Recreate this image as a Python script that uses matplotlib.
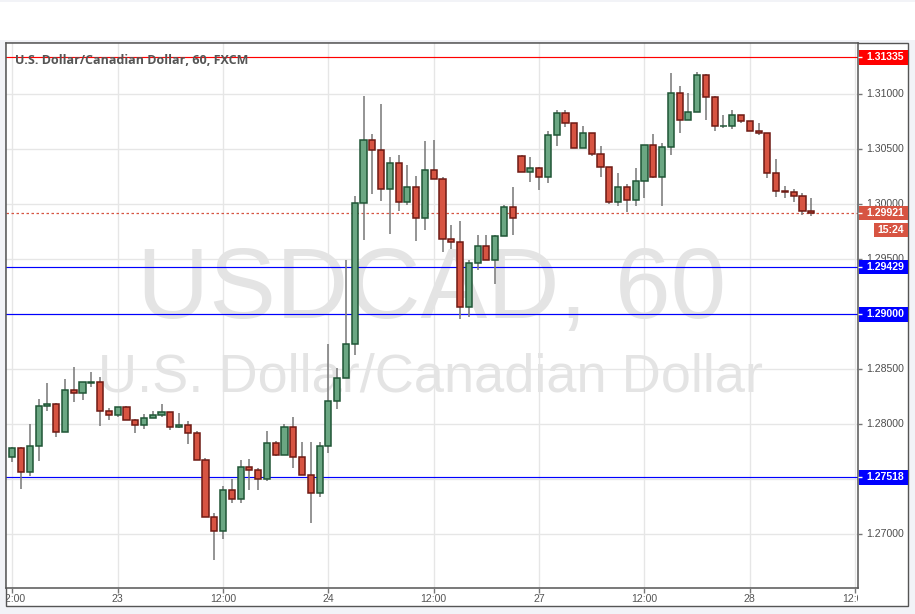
import matplotlib.pyplot as plt
from matplotlib.patches import Rectangle
from matplotlib import rcParams

rcParams.update({"font.family": ["Liberation Sans", "DejaVu Sans"]})

# hourly USDCAD candles, from 22nd 12:00
opens = [1.27700, 1.27782, 1.27564, 1.27800, 1.28164, 1.28185, 1.27927, 1.28309, 1.28282, 1.28380,
         1.28382, 1.28118, 1.28082, 1.28155, 1.28036, 1.27991, 1.28055, 1.28082, 1.28109, 1.27973,
         1.27991, 1.27918, 1.27676, 1.27155, 1.27027, 1.27400, 1.27318, 1.27609, 1.27582, 1.27500,
         1.27827, 1.27724, 1.27973, 1.27700, 1.27536, 1.27373, 1.27800, 1.28209, 1.28418, 1.28727,
         1.30009, 1.30582, 1.30490, 1.30136, 1.30373, 1.30018, 1.30155, 1.29873, 1.30309, 1.30227,
         1.29682, 1.29655, 1.29064, 1.29464, 1.29618, 1.29491, 1.29709, 1.29973, 1.30436, 1.30291,
         1.30327, 1.30245, 1.30627, 1.30827, 1.30736, 1.30509, 1.30645, 1.30454, 1.30336, 1.30018,
         1.30155, 1.30036, 1.30209, 1.30536, 1.30251, 1.30518, 1.31009, 1.30764, 1.30836, 1.31175,
         1.30972, 1.30709, 1.30709, 1.30809, 1.30754, 1.30663, 1.30645, 1.30282, 1.30118, 1.30109,
         1.30073, 1.29936]
highs = [1.27791, 1.27791, 1.28003, 1.28230, 1.28376, 1.28197, 1.28412, 1.28524, 1.28385, 1.28476,
         1.28433, 1.28148, 1.28161, 1.28167, 1.28052, 1.28094, 1.28118, 1.28188, 1.28109, 1.28103,
         1.28030, 1.27942, 1.27691, 1.27191, 1.27436, 1.27503, 1.27676, 1.27685, 1.27600, 1.27939,
         1.27845, 1.28003, 1.28067, 1.27839, 1.27839, 1.27839, 1.28730, 1.28509, 1.29494, 1.30076,
         1.30985, 1.30639, 1.30912, 1.30427, 1.30445, 1.30354, 1.30254, 1.30573, 1.30582, 1.30245,
         1.29809, 1.29845, 1.29491, 1.29724, 1.29724, 1.29724, 1.29991, 1.30155, 1.30445, 1.30427,
         1.30336, 1.30664, 1.30855, 1.30855, 1.30736, 1.30712, 1.30645, 1.30527, 1.30336, 1.30282,
         1.30182, 1.30327, 1.30536, 1.30639, 1.30554, 1.31194, 1.31075, 1.31012, 1.31203, 1.31184,
         1.30984, 1.30812, 1.30855, 1.30809, 1.30754, 1.30736, 1.30645, 1.30409, 1.30164, 1.30136,
         1.30100, 1.30054]
lows = [1.27661, 1.27415, 1.27533, 1.27670, 1.28124, 1.27888, 1.27927, 1.28206, 1.28224, 1.28342,
        1.27988, 1.28042, 1.28064, 1.28036, 1.27924, 1.27955, 1.28055, 1.28064, 1.27945, 1.27964,
        1.27818, 1.27676, 1.27155, 1.26766, 1.26955, 1.27288, 1.27288, 1.27406, 1.27406, 1.27482,
        1.27715, 1.27724, 1.27600, 1.27536, 1.27100, 1.27342, 1.27736, 1.28142, 1.28418, 1.28630,
        1.29676, 1.30091, 1.30033, 1.29733, 1.29942, 1.29991, 1.29670, 1.29769, 1.30227, 1.29570,
        1.29591, 1.28955, 1.28976, 1.29400, 1.29491, 1.29279, 1.29709, 1.29724, 1.30291, 1.30200,
        1.30127, 1.30190, 1.30527, 1.30700, 1.30509, 1.30509, 1.30436, 1.30245, 1.30000, 1.29988,
        1.29933, 1.29988, 1.30060, 1.30242, 1.29985, 1.30451, 1.30651, 1.30764, 1.30836, 1.30769,
        1.30663, 1.30691, 1.30682, 1.30736, 1.30663, 1.30627, 1.30242, 1.30070, 1.30060, 1.30024,
        1.29900, 1.29891]
closes = [1.27782, 1.27564, 1.27800, 1.28164, 1.28185, 1.27927, 1.28309, 1.28282, 1.28382, 1.28382,
          1.28118, 1.28082, 1.28155, 1.28036, 1.27991, 1.28055, 1.28082, 1.28109, 1.27973, 1.27991,
          1.27918, 1.27676, 1.27155, 1.27027, 1.27400, 1.27318, 1.27609, 1.27582, 1.27500, 1.27827,
          1.27724, 1.27973, 1.27700, 1.27536, 1.27373, 1.27800, 1.28209, 1.28418, 1.28727, 1.30009,
          1.30582, 1.30490, 1.30136, 1.30373, 1.30018, 1.30155, 1.29873, 1.30309, 1.30227, 1.29682,
          1.29655, 1.29064, 1.29464, 1.29618, 1.29491, 1.29709, 1.29973, 1.29873, 1.30291, 1.30327,
          1.30245, 1.30627, 1.30827, 1.30736, 1.30509, 1.30645, 1.30454, 1.30336, 1.30018, 1.30155,
          1.30036, 1.30209, 1.30536, 1.30251, 1.30518, 1.31009, 1.30764, 1.30836, 1.31175, 1.30972,
          1.30709, 1.30712, 1.30809, 1.30754, 1.30663, 1.30645, 1.30282, 1.30118, 1.30109, 1.30073,
          1.29936, 1.29921]

xtick_pos = [0, 12, 24, 36, 48, 60, 72, 84, 96]
xtick_labels = ['12:00', '23', '12:00', '24', '12:00', '27', '12:00', '28', '12:00']
price_ticks = [1.27, 1.275, 1.28, 1.285, 1.29, 1.295, 1.30, 1.305, 1.31]
price_labels = ['1.27000', '', '1.28000', '1.28500', '', '1.29500', '1.30000', '1.30500', '1.31000']
levels = [1.27518, 1.29000, 1.29429]
high_level = 1.31335
last_price = 1.29921
timer = '15:24'

W, H = 915, 614
PPU = 11000.0  # pixels per price unit


def box(x0, y0, x1, y1):
    return [x0 / W, 1 - y1 / H, (x1 - x0) / W, (y1 - y0) / H]


fig = plt.figure(figsize=(9.15, 6.14), dpi=100, facecolor='#f2f3f7')
fig.add_artist(Rectangle((0, 1 - 40 / H), 1, 38 / H, transform=fig.transFigure,
                         facecolor='white', edgecolor='none', zorder=-2))
fig.add_artist(Rectangle((6 / W, 1 - 606 / H), 902 / W, 563 / H, transform=fig.transFigure,
                         facecolor='white', edgecolor='#555555', linewidth=1, zorder=-1))

ylo = 1.31 - (588 - 94.3) / PPU
yhi = 1.31 + (94.3 - 43) / PPU
xlo = (6 - 12.3) / 8.78
xhi = (858 - 12.3) / 8.78

ax = fig.add_axes(box(6, 43, 858, 588))
ax.set_xlim(xlo, xhi)
ax.set_ylim(ylo, yhi)
ax.set_xticks(xtick_pos)
ax.set_yticks(price_ticks)
ax.tick_params(length=0, labelbottom=False, labelleft=False)
ax.set_axisbelow(True)
ax.grid(color='#e6e6e6', linewidth=1)
for s in ax.spines.values():
    s.set_color('#555555')
    s.set_linewidth(1.1)

ax.text(0.5, 0.495, 'USDCAD, 60', transform=ax.transAxes, ha='center', va='baseline',
        fontsize=72, color='#e4e4e4', zorder=0.8)
ax.text(0.498, 0.36, 'U.S. Dollar/Canadian Dollar', transform=ax.transAxes, ha='center',
        va='baseline', fontsize=39, color='#e4e4e4', zorder=0.8)

for lv in levels:
    ax.axhline(lv, color='#0000ff', linewidth=0.85, zorder=1)
ax.axhline(high_level, color='#ff0000', linewidth=0.85, zorder=1)
ax.axhline(last_price, color='#d75442', linewidth=0.9, linestyle=(0, (2, 2)), zorder=1)

xs = list(range(len(opens)))
bottoms = [min(o, c) for o, c in zip(opens, closes)]
heights = [abs(c - o) for o, c in zip(opens, closes)]
fills = ['#6ba783' if c >= o else '#d75442' for o, c in zip(opens, closes)]
edges = ['#1f5535' if c >= o else '#6e1a14' for o, c in zip(opens, closes)]
ax.vlines(xs, lows, highs, color='#777777', linewidth=1.1, zorder=2)
ax.bar(xs, heights, 0.7, bottom=bottoms, color=fills, edgecolor=edges, linewidth=1.1, zorder=3)

fig.text(15 / W, 1 - 64.5 / H, 'U.S. Dollar/Canadian Dollar, 60, FXCM', fontsize=9.0,
         family=['Open Sans', 'DejaVu Sans'], weight='bold', color='#555555', va='baseline')

# time axis under the chart
tax = fig.add_axes(box(6, 588, 858, 606))
tax.set_xlim(xlo, xhi)
tax.set_ylim(0, 1)
tax.axis('off')
tax.vlines(xtick_pos, 0.75, 1.0, color='#777777', linewidth=1)
for xp, lab in zip(xtick_pos, xtick_labels):
    tax.text(xp, 0.38, lab, ha='center', va='center', fontsize=7.6, color='#555555', clip_on=True)

# price scale on the right
pax = fig.add_axes(box(858, 43, 908, 588))
pax.set_xlim(0, 50)
pax.set_ylim(ylo, yhi)
pax.axis('off')
for p, lab in zip(price_ticks, price_labels):
    pax.hlines(p, 0, 4, color='#777777', linewidth=1)
    pax.text(8, p, lab, ha='left', va='center', fontsize=7.6, color='#4d4d4d')

half = 7.3 / PPU
tags = [(high_level, '#ff0000'), (last_price, '#d75442')] + [(lv, '#0000ff') for lv in levels]
for p, col in tags:
    pax.add_patch(Rectangle((0.5, p - half), 49.5, 2 * half, facecolor=col, edgecolor='none', zorder=3))
    pax.hlines(p, 0, 4, color='white', linewidth=1, zorder=4)
    pax.text(8, p, '%.5f' % p, ha='left', va='center', fontsize=7.6, weight='bold',
             color='white', zorder=5)
tp = last_price - 17 / PPU
pax.add_patch(Rectangle((15.5, tp - half), 34.5, 2 * half, facecolor='#d75442', edgecolor='none', zorder=3))
pax.text(32.5, tp, timer, ha='center', va='center', fontsize=7.6, weight='bold', color='white', zorder=5)

plt.savefig('out.png', dpi=100, facecolor=fig.get_facecolor())
